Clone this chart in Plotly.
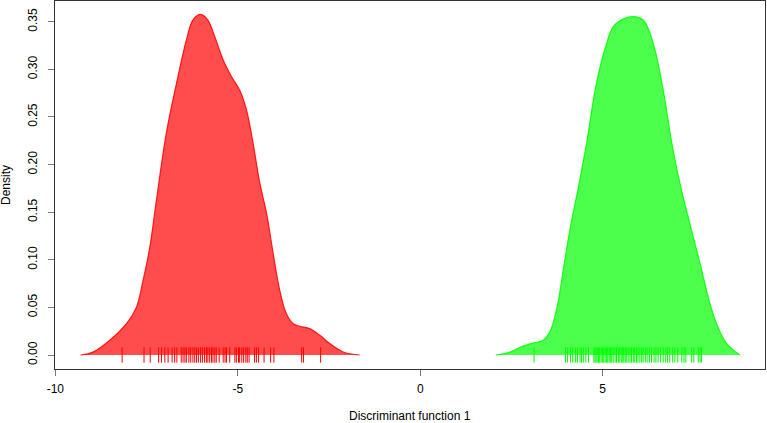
import plotly.graph_objects as go

# Density curve of group 1 (red)
red_x = [-9.31, -8.97, -8.51, -8.05, -7.78, -7.60, -7.41, -7.23, -6.96, -6.68, -6.41, -6.23,
         -6.02, -5.82, -5.63, -5.40, -5.17, -4.95, -4.76, -4.58, -4.40, -4.21, -4.03, -3.85,
         -3.67, -3.49, -3.30, -3.03, -2.75, -2.48, -2.11, -1.66]
red_y = [0.000, 0.003, 0.0155, 0.033, 0.050, 0.0775, 0.1135, 0.1626, 0.2327, 0.2853, 0.3308,
         0.3518, 0.3578, 0.3518, 0.3342, 0.3098, 0.2922, 0.2782, 0.2572, 0.2222, 0.1812,
         0.1486, 0.1066, 0.068, 0.0435, 0.033, 0.0302, 0.0277, 0.0207, 0.012, 0.0032, 0.000]

# Density curve of group 2 (green)
green_x = [2.07, 2.46, 2.82, 3.10, 3.37, 3.55, 3.75, 3.94, 4.12, 4.33, 4.56, 4.83, 5.11,
           5.29, 5.56, 5.84, 6.11, 6.30, 6.48, 6.66, 6.93, 7.15, 7.39, 7.67, 7.94, 8.12,
           8.40, 8.76]
green_y = [0.000, 0.003, 0.0095, 0.0126, 0.0155, 0.024, 0.050, 0.094, 0.135, 0.175, 0.2222,
           0.2853, 0.3273, 0.3448, 0.3528, 0.3553, 0.3518, 0.3378, 0.3132, 0.2782, 0.2152,
           0.175, 0.138, 0.096, 0.054, 0.033, 0.012, 0.000]

# Individual discriminant scores (rug)
red_rug = [-8.17, -7.57, -7.40, -7.17, -7.09, -7.00, -6.91, -6.80, -6.73, -6.67, -6.55, -6.50,
           -6.45, -6.41, -6.34, -6.29, -6.23, -6.18, -6.13, -6.08, -6.02, -5.97, -5.91, -5.86,
           -5.82, -5.77, -5.72, -5.68, -5.63, -5.59, -5.51, -5.40, -5.35, -5.31, -5.22, -5.08,
           -5.04, -4.98, -4.95, -4.89, -4.84, -4.78, -4.74, -4.69, -4.54, -4.49, -4.43, -4.28,
           -4.10, -4.01, -3.25, -3.20, -2.73]
green_rug = [3.12, 3.98, 4.04, 4.12, 4.18, 4.26, 4.31, 4.38, 4.42, 4.47, 4.54, 4.61, 4.76, 4.79,
             4.82, 4.85, 4.89, 4.92, 4.96, 5.00, 5.03, 5.07, 5.11, 5.14, 5.18, 5.22, 5.25, 5.29,
             5.34, 5.38, 5.43, 5.47, 5.51, 5.55, 5.58, 5.62, 5.66, 5.70, 5.75, 5.79, 5.84, 5.88,
             5.93, 5.97, 6.02, 6.07, 6.11, 6.17, 6.22, 6.28, 6.34, 6.41, 6.46, 6.52, 6.59, 6.66,
             6.73, 6.78, 6.84, 6.92, 6.98, 7.06, 7.17, 7.23, 7.28, 7.44, 7.50, 7.62, 7.67, 7.71]

x_ticks = [-10, -5, 0, 5]
x_tick_labels = ["-10", "-5", "0", "5"]
y_ticks = [0.00, 0.05, 0.10, 0.15, 0.20, 0.25, 0.30, 0.35]
y_tick_labels = ["0.00", "0.05", "0.10", "0.15", "0.20", "0.25", "0.30", "0.35"]

FONT = "Liberation Sans, Arial, sans-serif"
FS = 12

fig = go.Figure()
for xs, ys, fill, line in [(red_x, red_y, "rgba(255,0,0,0.7)", "rgba(255,0,0,0.85)"),
                           (green_x, green_y, "rgba(0,255,0,0.7)", "rgba(0,255,0,0.85)")]:
    fig.add_trace(go.Scatter(x=xs, y=ys, mode="lines", fill="tozeroy", fillcolor=fill,
                             line=dict(color=line, width=1.2, shape="spline", smoothing=1.0),
                             hoverinfo="skip", showlegend=False))

for rug, col in [(red_rug, "#ff0000"), (green_rug, "#00ff00")]:
    fig.add_trace(go.Scatter(x=rug, y=[0] * len(rug), mode="markers",
                             marker=dict(symbol="line-ns", size=11, line=dict(color=col, width=1)),
                             hoverinfo="skip", showlegend=False))

axis_common = dict(ticks="outside", ticklen=6, tickcolor="#777", showgrid=False, zeroline=False,
                   showline=True, linecolor="#333", linewidth=1, mirror=True, automargin=False,
                   tickfont=dict(family=FONT, size=FS, color="black"))

fig.update_layout(
    template="none",
    autosize=False,
    width=767, height=423,
    margin=dict(l=55, r=2, t=1, b=54),
    paper_bgcolor="white", plot_bgcolor="white",
    font=dict(family=FONT, size=FS, color="black"),
    xaxis=dict(range=[-10.01, 9.45], tickmode="array", tickvals=x_ticks, ticktext=x_tick_labels,
               ticklabelstandoff=3, **axis_common),
    yaxis=dict(range=[-0.0147, 0.3718], tickmode="array", tickvals=y_ticks, ticktext=y_tick_labels,
               tickangle=-90, ticklabelstandoff=6, **axis_common),
    annotations=[
        dict(text="Discriminant function 1", xref="paper", yref="paper", x=0.5, y=-0.127,
             xanchor="center", yanchor="middle", showarrow=False,
             font=dict(family=FONT, size=FS, color="black")),
        dict(text="Density", xref="paper", yref="paper", x=-0.069, y=0.5, textangle=-90,
             xanchor="center", yanchor="middle", showarrow=False,
             font=dict(family=FONT, size=FS, color="black")),
    ],
)

post = ("document.body.style.margin='0px';document.body.style.overflow='hidden';"
        "Plotly.relayout('{plot_id}', {width: 767, height: 423});")

fig.write_html("out.html", config={"responsive": False, "displayModeBar": False},
               post_script=post)
